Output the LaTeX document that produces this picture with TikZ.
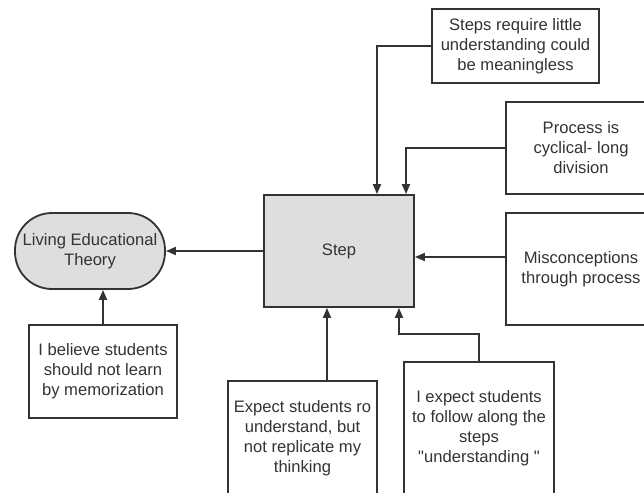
\documentclass[tikz,border=0pt]{standalone}
\usepackage{fontspec}
\setmainfont{Liberation Sans}[Ligatures=TeXOff]
\usetikzlibrary{arrows.meta}
\definecolor{linegray}{HTML}{333333}
\definecolor{boxgray}{HTML}{DEDEDE}

\begin{document}
\begin{tikzpicture}
    [x=1pt, y=-1pt,
      every node/.style={font=\fontsize{16.6}{20}\selectfont, text=linegray},
      note/.style={draw=linegray, line width=1.8pt, fill=white, inner sep=0pt, align=center},
      stepbox/.style={note, fill=boxgray},
      theory/.style={note, fill=boxgray, rounded corners=37pt},
      arr/.style={draw=linegray, line width=1.8pt, -{Triangle[length=10pt,width=8pt]}}]
    \useasboundingbox (0,0) rectangle (644,492);
    \clip (0,0) rectangle (644,492);
    \node[stepbox, minimum width=150pt, minimum height=112pt] (step) at (339,251) {Step};
    \node[theory, minimum width=150pt, minimum height=76pt] (let) at (90,251) {Living Educational\\Theory};
    \node[note, minimum width=148pt, minimum height=93pt] (believe) at (103,371.5) {I believe students\\should not learn\\by memorization};
    \node[note, minimum width=149pt, minimum height=114pt] (expectro) at (302.5,438) {Expect students ro\\understand, but\\not replicate my\\thinking};
    \node[note, minimum width=150pt, minimum height=132pt] (iexpect) at (479,428) {I expect students\\to follow along the\\steps\\"understanding "};
    \node[note, minimum width=167pt, minimum height=74pt] (stepsreq) at (515.5,46) {Steps require little\\understanding could\\be meaningless};
    \node[note, minimum width=150pt, minimum height=92pt] (process) at (581,148) {Process is\\cyclical- long\\division};
    \node[note, minimum width=150pt, minimum height=112pt] (miscon) at (581,269) {Misconceptions\\through process};
    \draw[arr] (step.west) -- (let.east);
    \draw[arr] (believe.north) -- (believe.north |- let.south);
    \draw[arr] ([xshift=24.5pt]expectro.north) -- ([xshift=24.5pt]expectro.north |- step.south);
    \draw[arr] (iexpect.north) -- (479,334) -| ([xshift=60pt]step.south);
    \draw[arr] (stepsreq.west) -| ([xshift=38pt]step.north);
    \draw[arr] (process.west) -| ([xshift=67pt]step.north);
    \draw[arr] ([yshift=12pt]miscon.west) -- ([yshift=12pt]miscon.west -| step.east);
\end{tikzpicture}
\end{document}
